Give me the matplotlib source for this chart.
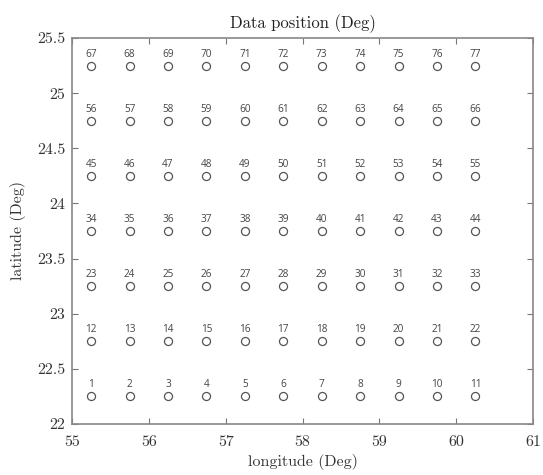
import numpy as np
import matplotlib
matplotlib.use("Agg")
import matplotlib.pyplot as plt

# Grid of sample positions (degrees)
longitudes = [55.25, 55.75, 56.25, 56.75, 57.25, 57.75, 58.25, 58.75, 59.25, 59.75, 60.25]
latitudes = [22.25, 22.75, 23.25, 23.75, 24.25, 24.75, 25.25]

x_ticks = [55, 56, 57, 58, 59, 60, 61]
y_ticks = [22, 22.5, 23, 23.5, 24, 24.5, 25, 25.5]
x_tick_labels = ["55", "56", "57", "58", "59", "60", "61"]
y_tick_labels = ["22", "22.5", "23", "23.5", "24", "24.5", "25", "25.5"]

plt.rcParams["axes.formatter.use_mathtext"] = True
serif = "cmr10"

fig = plt.figure(figsize=(5.43, 4.75), dpi=100)
ax = fig.add_axes([72 / 543, 1 - 424 / 475, (533 - 72) / 543, (424 - 38) / 475])

lon_grid, lat_grid = np.meshgrid(longitudes, latitudes)
lon_flat = lon_grid.ravel()
lat_flat = lat_grid.ravel()

ax.plot(lon_flat, lat_flat, linestyle="none", marker="o", markersize=5.8,
        markerfacecolor="white", markeredgecolor="#555555", markeredgewidth=0.9)

for idx, (lx, ly) in enumerate(zip(lon_flat, lat_flat), start=1):
    ax.annotate(str(idx), (lx, ly), xytext=(0, 4.3), textcoords="offset points",
                ha="center", va="bottom", fontsize=7.2, color="#444444",
                family="Open Sans")

ax.set_xlim(55, 61)
ax.set_ylim(22, 25.5)
ax.set_xticks(x_ticks)
ax.set_xticklabels(x_tick_labels, fontfamily=serif, fontsize=11.5)
ax.set_yticks(y_ticks)
ax.set_yticklabels(y_tick_labels, fontfamily=serif, fontsize=11.5)
ax.tick_params(axis="both", direction="in", top=True, right=True, length=4, width=0.8,
               color="#777777", labelcolor="#333333")
ax.tick_params(axis="x", pad=8)
ax.tick_params(axis="y", pad=5)
for spine in ax.spines.values():
    spine.set_color("#888888")
    spine.set_linewidth(1.2)

ax.set_title("Data position (Deg)", fontfamily=serif, fontsize=12, color="#222222", pad=7)
ax.set_xlabel("longitude (Deg)", fontfamily=serif, fontsize=11.5, color="#333333", labelpad=4)
ax.set_ylabel("latitude (Deg)", fontfamily=serif, fontsize=11.5, color="#333333", labelpad=8)

fig.savefig("out.png", dpi=100)
